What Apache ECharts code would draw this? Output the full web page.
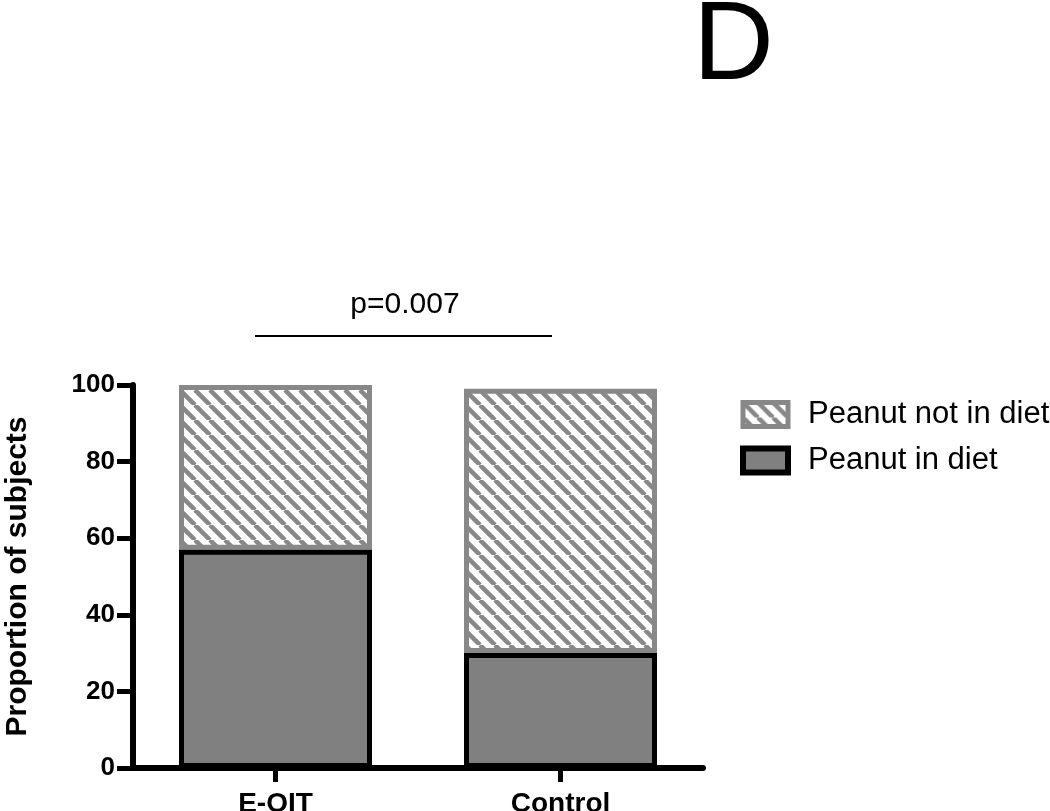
<!DOCTYPE html>
<html>
<head>
<meta charset="utf-8">
<script src="https://cdn.jsdelivr.net/npm/echarts@6/dist/echarts.min.js"></script>
<style>
  html, body { margin: 0; padding: 0; background: #fff; }
  #chart { width: 1050px; height: 811px; }
</style>
</head>
<body>
<div id="chart"></div>
<script>
const categories = ['E-OIT', 'Control']
const inDiet = [57, 30]
const notInDiet = [43, 69]
const yTicks = { min: 0, max: 100, interval: 20 }
const pLabel = 'p=0.007'

const font = '"Liberation Sans", Arial, sans-serif'

// diagonal hatch like the prism fill
function hatch() {
  let s = 15
  let c = document.createElement('canvas')
  c.width = s
  c.height = s
  let ctx = c.getContext('2d')
  ctx.fillStyle = '#fff'
  ctx.fillRect(0, 0, s, s)
  ctx.strokeStyle = '#888'
  ctx.lineWidth = 4.5
  for (let x0 of [-s, 0, s]) {
    ctx.beginPath()
    ctx.moveTo(x0, 0)
    ctx.lineTo(x0 + s, s)
    ctx.stroke()
  }
  return { image: c, repeat: 'repeat' }
}
const hatchFill = hatch()

let myChart = echarts.init(document.getElementById('chart'))
let option = {
  animation: false,
  title: {
    text: 'D',
    left: 688,
    top: -13,
    textStyle: { fontFamily: font, fontSize: 112, fontWeight: 'normal', color: '#000' }
  },
  legend: {
    left: 740,
    top: 399,
    padding: 0,
    orient: 'vertical',
    itemWidth: 45,
    itemHeight: 24,
    itemGap: 15,
    icon: 'rect',
    textStyle: { fontFamily: font, fontSize: 31, color: '#000', padding: [0, 0, 0, 15] },
    data: [
      { name: 'Peanut not in diet', itemStyle: { color: hatchFill, borderColor: '#888', borderWidth: 5 } },
      { name: 'Peanut in diet', itemStyle: { color: '#808080', borderColor: '#000', borderWidth: 6 } }
    ]
  },
  grid: { left: 133, right: 347, top: 385, bottom: 43, outerBoundsMode: 'none' },
  xAxis: {
    type: 'category',
    data: categories,
    axisLine: { lineStyle: { color: '#000', width: 6 } },
    axisTick: { show: true, interval: 0, alignWithLabel: true, length: 14, lineStyle: { color: '#000', width: 5 } },
    axisLabel: { color: '#000', fontFamily: font, fontSize: 28, fontWeight: 'bold', margin: 22 }
  },
  yAxis: {
    type: 'value',
    min: yTicks.min,
    max: yTicks.max,
    interval: yTicks.interval,
    name: 'Proportion of subjects',
    nameLocation: 'middle',
    nameGap: 100,
    nameTextStyle: { color: '#000', fontFamily: font, fontSize: 30, fontWeight: 'bold' },
    axisLine: { show: true, lineStyle: { color: '#000', width: 6 } },
    axisTick: { show: true, length: 16, lineStyle: { color: '#000', width: 5 } },
    axisLabel: { color: '#000', fontFamily: font, fontSize: 26, fontWeight: 'bold', margin: 18 },
    splitLine: { show: false }
  },
  series: [
    {
      name: 'Peanut in diet',
      type: 'bar',
      stack: 'total',
      barWidth: 193,
      data: inDiet,
      itemStyle: { color: '#808080', borderColor: '#000', borderWidth: 5 },
      z: 3
    },
    {
      name: 'Peanut not in diet',
      type: 'bar',
      stack: 'total',
      barWidth: 193,
      data: notInDiet,
      itemStyle: { color: hatchFill, borderColor: '#888', borderWidth: 5 },
      z: 2
    }
  ],
  graphic: [
    {
      type: 'line',
      shape: { x1: 255, y1: 336, x2: 552, y2: 336 },
      style: { stroke: '#000', lineWidth: 2 }
    },
    {
      type: 'text',
      x: 405,
      y: 305,
      style: { text: pLabel, font: '30px ' + font, fill: '#000', align: 'center', verticalAlign: 'middle' }
    }
  ]
}
myChart.setOption(option)

window.addEventListener('resize', () => {
  myChart.resize()
})
</script>
</body>
</html>
